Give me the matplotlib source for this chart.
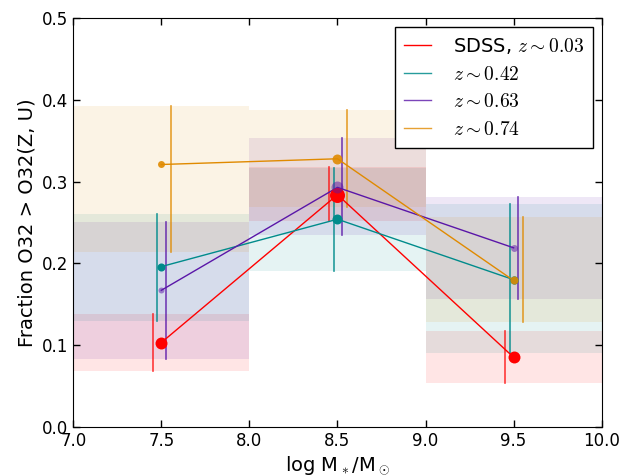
import matplotlib
matplotlib.use('Agg')
import matplotlib.pyplot as plt
from matplotlib.lines import Line2D

# mass bins (log M*/Msun)
bin_lo = [7.0, 8.0, 9.0]
bin_hi = [8.0, 9.0, 10.0]
mass = [7.5, 8.5, 9.5]

labels = ['SDSS, $z\\sim0.03$', '$z\\sim0.42$', '$z\\sim0.63$', '$z\\sim0.74$']

frac_sdss = [0.103, 0.284, 0.085]
lo_sdss = [0.068, 0.2515, 0.053]
hi_sdss = [0.138, 0.318, 0.1166]

frac_z042 = [0.196, 0.254, 0.180]
lo_z042 = [0.130, 0.190, 0.090]
hi_z042 = [0.261, 0.317, 0.273]

frac_z063 = [0.167, 0.293, 0.219]
lo_z063 = [0.083, 0.235, 0.156]
hi_z063 = [0.250, 0.353, 0.2815]

frac_z074 = [0.321, 0.328, 0.179]
lo_z074 = [0.214, 0.269, 0.128]
hi_z074 = [0.393, 0.388, 0.2565]

plt.rcParams['mathtext.fontset'] = 'cm'
plt.rcParams['font.family'] = 'DejaVu Sans'
plt.rcParams['xtick.direction'] = 'in'
plt.rcParams['ytick.direction'] = 'in'
plt.rcParams['xtick.top'] = True
plt.rcParams['ytick.right'] = True

fig = plt.figure(figsize=(6.3, 4.75), dpi=100)
ax = fig.add_axes([0.1163, 0.1017, 0.8387, 0.8598])

series = [
    (frac_sdss, lo_sdss, hi_sdss, 'red', -0.048, [8.6, 10.8, 8.6], 1.0, 0.75),
    (frac_z042, lo_z042, hi_z042, '#008b8b', -0.022, [5.8, 7.2, 6], 1.0, 0.85),
    (frac_z063, lo_z063, hi_z063, '#5a16a8', 0.027, [4.3, 8.6, 5], 0.5, 0.8),
    (frac_z074, lo_z074, hi_z074, '#e08a00', 0.053, [5, 7.2, 5.8], 0.9, 0.8),
]

handles = []
for (frac, lo, hi, col, dx, msz, malpha, ealpha), lab in zip(series, labels):
    for x0, x1, l, h in zip(bin_lo, bin_hi, lo, hi):
        ax.fill_between([x0, x1], l, h, color=col, alpha=0.1, lw=0, zorder=1)
    ax.plot(mass, frac, '-', color=col, lw=1.0, zorder=3)
    for m, f, l, h, s in zip(mass, frac, lo, hi, msz):
        ax.plot([m + dx, m + dx], [l, h], '-', color=col, lw=1.2, alpha=ealpha, zorder=2)
        ax.plot(m, f, 'o', color=col, mec='none', ms=s, alpha=malpha, zorder=4)
    handles.append(Line2D([], [], color=col, lw=1.0, alpha=ealpha if col != 'red' else 1.0))

ax.set_xlim(7.0, 10.0)
ax.set_ylim(0.0, 0.5)
ax.set_xticks([7.0, 7.5, 8.0, 8.5, 9.0, 9.5, 10.0])
ax.set_yticks([0.0, 0.1, 0.2, 0.3, 0.4, 0.5])
ax.tick_params(labelsize=12, length=5, width=1)
ax.set_xlabel('log M$_*$/M$_\\odot$', fontsize=14)
ax.set_ylabel('Fraction O32 > O32(Z, U)', fontsize=14)

leg = ax.legend(handles, labels, loc='upper right', fontsize=14, fancybox=False,
                framealpha=1, edgecolor='black', handlelength=1.4, handletextpad=1.1,
                borderpad=0.45, labelspacing=0.45, borderaxespad=0.45)
leg.get_frame().set_linewidth(1.0)

fig.savefig('out.png', dpi=100)
